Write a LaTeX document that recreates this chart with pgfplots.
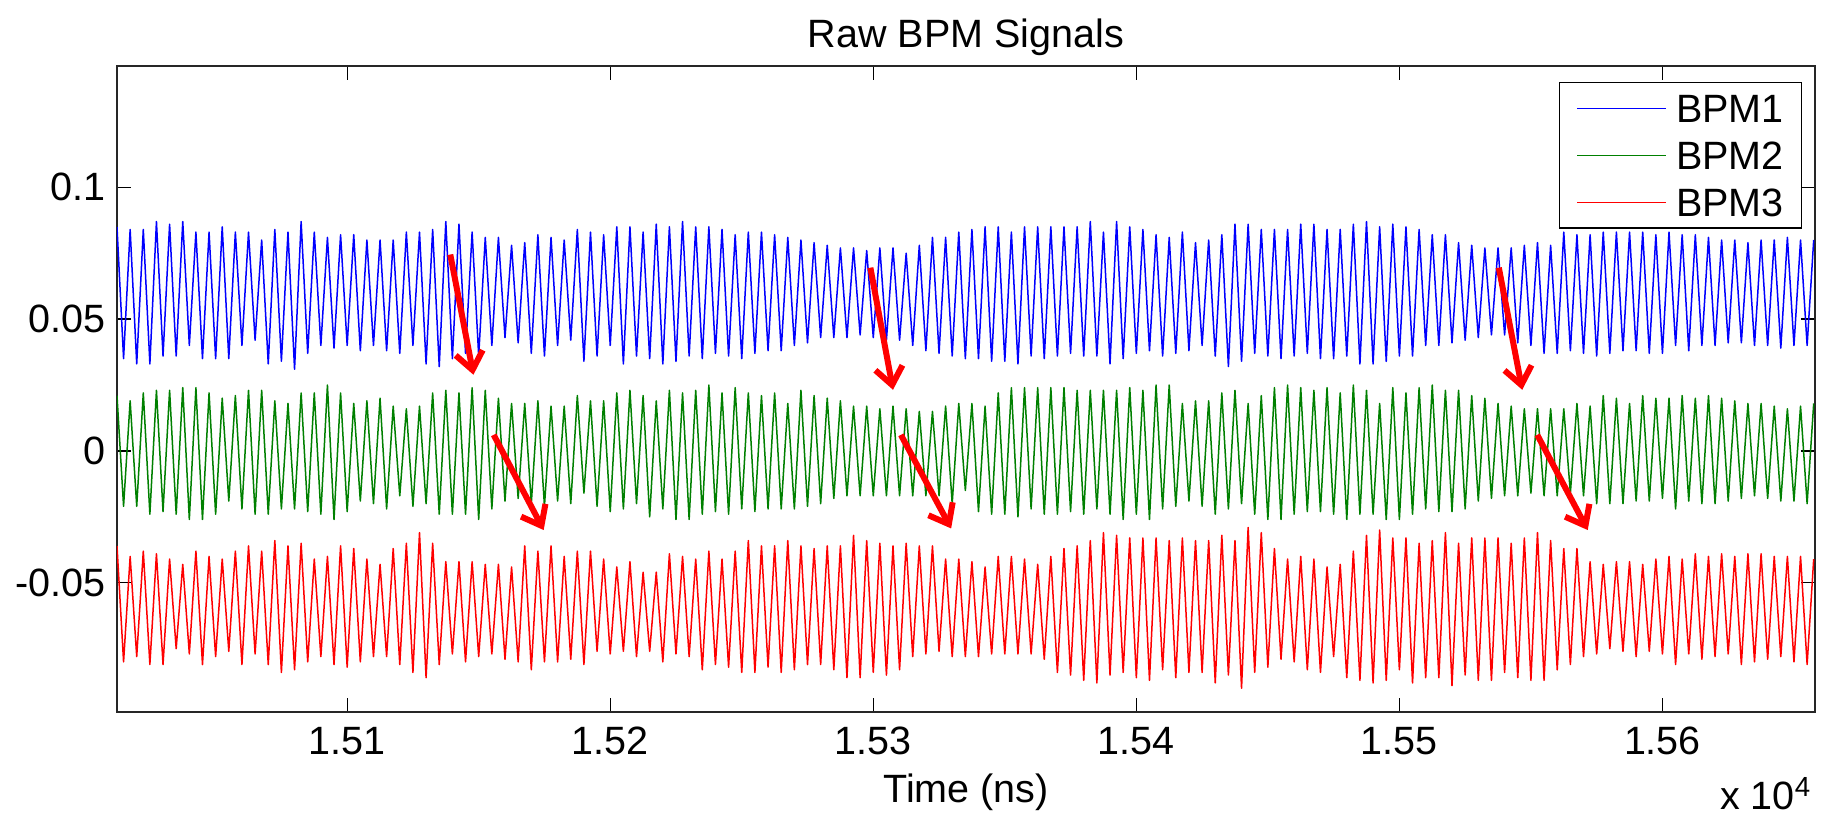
\documentclass[border=0pt]{standalone}
\usepackage{fontspec}
\setmainfont{Liberation Sans}
\usepackage{pgfplots}
\usepackage{pgfplotstable}
\pgfplotsset{compat=1.18}
\usetikzlibrary{arrows.meta}
\definecolor{mblue}{rgb}{0,0,1}
\definecolor{mgreen}{rgb}{0,0.5,0}
\definecolor{mred}{rgb}{1,0,0}

\pgfplotstableread{
x b g r
15012.5 0.085 0.021 -0.036
15015 0.035 -0.021 -0.080
15017.5 0.084 0.019 -0.040
15020 0.033 -0.021 -0.078
15022.5 0.084 0.022 -0.038
15025 0.033 -0.024 -0.081
15027.5 0.087 0.023 -0.039
15030 0.036 -0.023 -0.081
15032.5 0.086 0.023 -0.041
15035 0.036 -0.024 -0.075
15037.5 0.087 0.024 -0.043
15040 0.040 -0.026 -0.077
15042.5 0.083 0.024 -0.038
15045 0.035 -0.026 -0.081
15047.5 0.083 0.022 -0.040
15050 0.035 -0.024 -0.078
15052.5 0.085 0.020 -0.041
15055 0.035 -0.019 -0.076
15057.5 0.083 0.021 -0.038
15060 0.040 -0.022 -0.081
15062.5 0.083 0.023 -0.036
15065 0.042 -0.024 -0.077
15067.5 0.080 0.023 -0.038
15070 0.033 -0.024 -0.081
15072.5 0.084 0.019 -0.034
15075 0.034 -0.022 -0.084
15077.5 0.083 0.018 -0.036
15080 0.031 -0.022 -0.083
15082.5 0.087 0.022 -0.035
15085 0.037 -0.023 -0.080
15087.5 0.083 0.022 -0.041
15090 0.040 -0.024 -0.078
15092.5 0.081 0.025 -0.040
15095 0.039 -0.026 -0.081
15097.5 0.082 0.022 -0.036
15100 0.040 -0.023 -0.082
15102.5 0.082 0.018 -0.037
15105 0.038 -0.019 -0.080
15107.5 0.080 0.019 -0.041
15110 0.040 -0.020 -0.078
15112.5 0.080 0.020 -0.043
15115 0.038 -0.022 -0.078
15117.5 0.080 0.017 -0.037
15120 0.037 -0.017 -0.081
15122.5 0.083 0.016 -0.035
15125 0.040 -0.021 -0.084
15127.5 0.083 0.017 -0.031
15130 0.033 -0.020 -0.086
15132.5 0.084 0.022 -0.035
15135 0.032 -0.024 -0.081
15137.5 0.087 0.023 -0.042
15140 0.035 -0.024 -0.077
15142.5 0.086 0.022 -0.042
15145 0.037 -0.024 -0.080
15147.5 0.083 0.024 -0.042
15150 0.036 -0.026 -0.078
15152.5 0.081 0.023 -0.043
15155 0.040 -0.022 -0.077
15157.5 0.081 0.020 -0.043
15160 0.043 -0.019 -0.079
15162.5 0.078 0.018 -0.044
15165 0.041 -0.018 -0.080
15167.5 0.079 0.018 -0.036
15170 0.037 -0.020 -0.083
15172.5 0.082 0.019 -0.038
15175 0.036 -0.021 -0.080
15177.5 0.081 0.017 -0.036
15180 0.040 -0.019 -0.080
15182.5 0.080 0.017 -0.040
15185 0.042 -0.020 -0.079
15187.5 0.084 0.021 -0.038
15190 0.034 -0.016 -0.081
15192.5 0.083 0.019 -0.038
15195 0.036 -0.021 -0.076
15197.5 0.082 0.019 -0.041
15200 0.040 -0.023 -0.077
15202.5 0.085 0.022 -0.044
15205 0.033 -0.022 -0.076
15207.5 0.085 0.023 -0.042
15210 0.036 -0.020 -0.078
15212.5 0.083 0.021 -0.046
15215 0.035 -0.025 -0.076
15217.5 0.086 0.019 -0.046
15220 0.033 -0.022 -0.080
15222.5 0.085 0.023 -0.039
15225 0.034 -0.026 -0.077
15227.5 0.087 0.022 -0.040
15230 0.036 -0.026 -0.078
15232.5 0.085 0.023 -0.041
15235 0.035 -0.024 -0.083
15237.5 0.085 0.025 -0.038
15240 0.037 -0.023 -0.081
15242.5 0.084 0.022 -0.041
15245 0.036 -0.024 -0.082
15247.5 0.082 0.024 -0.038
15250 0.035 -0.022 -0.084
15252.5 0.083 0.022 -0.034
15255 0.037 -0.023 -0.084
15257.5 0.083 0.021 -0.036
15260 0.038 -0.022 -0.082
15262.5 0.082 0.022 -0.036
15265 0.038 -0.022 -0.084
15267.5 0.081 0.018 -0.034
15270 0.040 -0.022 -0.083
15272.5 0.080 0.023 -0.036
15275 0.041 -0.021 -0.081
15277.5 0.079 0.021 -0.037
15280 0.043 -0.020 -0.081
15282.5 0.078 0.020 -0.036
15285 0.043 -0.018 -0.083
15287.5 0.077 0.019 -0.036
15290 0.043 -0.017 -0.086
15292.5 0.077 0.017 -0.032
15295 0.044 -0.017 -0.086
15297.5 0.076 0.017 -0.034
15300 0.043 -0.017 -0.084
15302.5 0.077 0.016 -0.035
15305 0.042 -0.017 -0.085
15307.5 0.077 0.017 -0.036
15310 0.042 -0.017 -0.083
15312.5 0.075 0.016 -0.035
15315 0.040 -0.017 -0.078
15317.5 0.078 0.015 -0.036
15320 0.038 -0.017 -0.077
15322.5 0.081 0.015 -0.036
15325 0.037 -0.017 -0.076
15327.5 0.081 0.017 -0.041
15330 0.036 -0.020 -0.078
15332.5 0.083 0.018 -0.041
15335 0.035 -0.015 -0.078
15337.5 0.084 0.018 -0.042
15340 0.035 -0.023 -0.078
15342.5 0.085 0.017 -0.044
15345 0.034 -0.024 -0.077
15347.5 0.085 0.022 -0.040
15350 0.034 -0.024 -0.077
15352.5 0.083 0.024 -0.040
15355 0.033 -0.025 -0.077
15357.5 0.085 0.024 -0.041
15360 0.036 -0.022 -0.077
15362.5 0.085 0.024 -0.043
15365 0.035 -0.024 -0.079
15367.5 0.085 0.024 -0.040
15370 0.036 -0.024 -0.084
15372.5 0.085 0.024 -0.037
15375 0.037 -0.023 -0.085
15377.5 0.085 0.023 -0.036
15380 0.036 -0.024 -0.087
15382.5 0.087 0.023 -0.034
15385 0.036 -0.022 -0.088
15387.5 0.083 0.023 -0.031
15390 0.033 -0.024 -0.085
15392.5 0.087 0.023 -0.032
15395 0.035 -0.026 -0.084
15397.5 0.085 0.024 -0.033
15400 0.037 -0.024 -0.086
15402.5 0.084 0.023 -0.033
15405 0.038 -0.026 -0.087
15407.5 0.082 0.025 -0.033
15410 0.036 -0.022 -0.083
15412.5 0.081 0.025 -0.034
15415 0.037 -0.021 -0.086
15417.5 0.083 0.018 -0.033
15420 0.038 -0.019 -0.084
15422.5 0.079 0.019 -0.034
15425 0.040 -0.021 -0.084
15427.5 0.080 0.019 -0.034
15430 0.036 -0.024 -0.088
15432.5 0.082 0.022 -0.032
15435 0.032 -0.022 -0.085
15437.5 0.086 0.023 -0.034
15440 0.034 -0.020 -0.090
15442.5 0.086 0.018 -0.029
15445 0.037 -0.024 -0.084
15447.5 0.084 0.021 -0.031
15450 0.036 -0.026 -0.082
15452.5 0.084 0.024 -0.037
15455 0.035 -0.026 -0.079
15457.5 0.084 0.025 -0.041
15460 0.036 -0.024 -0.080
15462.5 0.086 0.024 -0.040
15465 0.037 -0.023 -0.083
15467.5 0.086 0.023 -0.041
15470 0.035 -0.023 -0.084
15472.5 0.084 0.024 -0.044
15475 0.035 -0.024 -0.078
15477.5 0.084 0.022 -0.043
15480 0.036 -0.026 -0.086
15482.5 0.086 0.025 -0.038
15485 0.033 -0.024 -0.087
15487.5 0.087 0.023 -0.032
15490 0.033 -0.024 -0.088
15492.5 0.085 0.018 -0.030
15495 0.034 -0.026 -0.087
15497.5 0.086 0.024 -0.033
15500 0.036 -0.026 -0.083
15502.5 0.085 0.022 -0.033
15505 0.036 -0.024 -0.088
15507.5 0.084 0.024 -0.035
15510 0.040 -0.022 -0.086
15512.5 0.082 0.025 -0.034
15515 0.040 -0.023 -0.086
15517.5 0.082 0.023 -0.031
15520 0.041 -0.023 -0.089
15522.5 0.079 0.023 -0.035
15525 0.042 -0.022 -0.085
15527.5 0.078 0.021 -0.033
15530 0.043 -0.019 -0.087
15532.5 0.077 0.020 -0.033
15535 0.044 -0.018 -0.087
15537.5 0.077 0.018 -0.033
15540 0.044 -0.017 -0.084
15542.5 0.077 0.017 -0.035
15545 0.041 -0.017 -0.086
15547.5 0.078 0.016 -0.033
15550 0.040 -0.016 -0.087
15552.5 0.079 0.016 -0.031
15555 0.037 -0.017 -0.087
15557.5 0.078 0.016 -0.034
15560 0.037 -0.017 -0.083
15562.5 0.083 0.016 -0.037
15565 0.038 -0.016 -0.081
15567.5 0.082 0.018 -0.037
15570 0.037 -0.017 -0.078
15572.5 0.082 0.017 -0.042
15575 0.036 -0.020 -0.077
15577.5 0.083 0.021 -0.043
15580 0.037 -0.020 -0.075
15582.5 0.083 0.020 -0.042
15585 0.038 -0.020 -0.076
15587.5 0.083 0.018 -0.042
15590 0.038 -0.019 -0.078
15592.5 0.083 0.021 -0.043
15595 0.037 -0.019 -0.076
15597.5 0.082 0.020 -0.041
15600 0.037 -0.018 -0.077
15602.5 0.083 0.020 -0.040
15605 0.040 -0.022 -0.081
15607.5 0.082 0.021 -0.041
15610 0.038 -0.019 -0.077
15612.5 0.082 0.020 -0.039
15615 0.040 -0.020 -0.079
15617.5 0.081 0.021 -0.040
15620 0.040 -0.020 -0.078
15622.5 0.080 0.020 -0.039
15625 0.041 -0.019 -0.077
15627.5 0.080 0.019 -0.040
15630 0.041 -0.018 -0.081
15632.5 0.079 0.018 -0.039
15635 0.040 -0.017 -0.080
15637.5 0.080 0.018 -0.039
15640 0.040 -0.018 -0.079
15642.5 0.080 0.017 -0.040
15645 0.039 -0.019 -0.078
15647.5 0.081 0.016 -0.040
15650 0.040 -0.019 -0.080
15652.5 0.080 0.017 -0.040
15655 0.040 -0.020 -0.081
15657.5 0.080 0.018 -0.041
}\bpm

\begin{document}
\begin{tikzpicture}[font=\fontsize{15.8}{19}\selectfont]
\begin{axis}[
  name=ax,
  scale only axis,
  width=679.2pt, height=258.4pt,
  xmin=15012.5, xmax=15658,
  ymin=-0.099, ymax=0.146,
  scaled x ticks=false, scaled y ticks=false,
  xtick={15100,15200,15300,15400,15500,15600},
  xticklabels={1.51,1.52,1.53,1.54,1.55,1.56},
  ytick={-0.05,0,0.05,0.1},
  yticklabels={-0.05,0,0.05,0.1},
  tick align=inside,
  major tick length=5.5pt,
  every tick/.style={black, line width=0.5pt},
  axis line style={black!85, line width=0.7pt},
  xticklabel style={anchor=base, yshift=-17.2pt, inner sep=0pt},
  yticklabel style={anchor=east, inner sep=0pt, xshift=-4.4pt},
  title={Raw BPM Signals},
  title style={at={(axis description cs:0.5,1)}, anchor=base, yshift=1.4pt, inner sep=0pt},
  xlabel={Time (ns)},
  xlabel style={at={(axis description cs:0.5,0)}, anchor=base, yshift=-36.4pt, inner sep=0pt},
  every axis plot/.append style={line width=0.6pt, line join=round},
  legend style={at={(axis description cs:0.9923,0.975)}, anchor=north east,
    draw=black, line width=0.5pt, fill=white,
    inner xsep=7pt, inner ysep=4.6pt,
    /tikz/row sep=7.5pt, /tikz/column sep=3.6pt,
    nodes={inner sep=0pt, text height=11.3pt, text depth=0pt}},
  legend cell align=left,
  legend image code/.code={\draw[#1, line width=0.6pt] (0pt,0pt) -- (35.6pt,0pt);},
]
\addplot[mblue] table[x=x, y=b] {\bpm};
\addplot[mgreen] table[x=x, y=g] {\bpm};
\addplot[mred] table[x=x, y=r] {\bpm};
\legend{BPM1, BPM2, BPM3}

\draw[mred, line width=2.4pt, -{Straight Barb[length=7pt,width=11pt]}] (axis cs:15139.2,0.0745) -- (axis cs:15148.0,0.0289);
\draw[mred, line width=2.4pt, -{Straight Barb[length=7pt,width=11pt]}] (axis cs:15155.7,0.0061) -- (axis cs:15174.7,-0.0300);
\draw[mred, line width=2.4pt, -{Straight Barb[length=7pt,width=11pt]}] (axis cs:15298.9,0.0695) -- (axis cs:15307.5,0.0232);
\draw[mred, line width=2.4pt, -{Straight Barb[length=7pt,width=11pt]}] (axis cs:15310.5,0.0061) -- (axis cs:15329.6,-0.0294);
\draw[mred, line width=2.4pt, -{Straight Barb[length=7pt,width=11pt]}] (axis cs:15537.8,0.0695) -- (axis cs:15546.7,0.0232);
\draw[mred, line width=2.4pt, -{Straight Barb[length=7pt,width=11pt]}] (axis cs:15552.4,0.0061) -- (axis cs:15571.6,-0.0300);
\end{axis}
\node[anchor=base east, inner sep=0pt] at ([xshift=-1.2pt,yshift=-39pt]ax.south east) {x 10\textsuperscript{4}};
\pgfresetboundingbox
\path ([xshift=-46.8pt,yshift=-42.8pt]ax.south west) rectangle ([xshift=4pt,yshift=26.4pt]ax.north east);
\end{tikzpicture}
\end{document}
